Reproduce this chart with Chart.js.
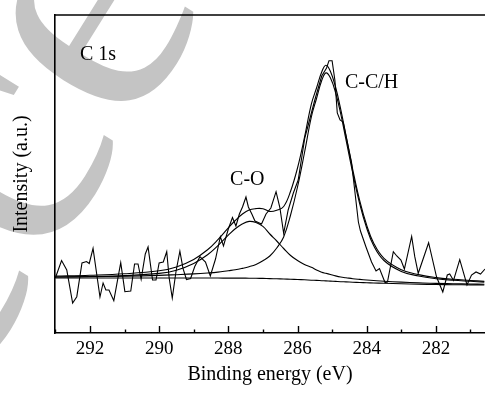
<!DOCTYPE html>
<html><head><meta charset="utf-8">
<style>html,body{margin:0;padding:0;background:#fff;overflow:hidden}#wrap{width:485px;height:393px}</style>
<script src="https://cdn.jsdelivr.net/npm/chart.js@4.4.1/dist/chart.umd.min.js"></script>
</head><body><div id="wrap"><canvas id="c" width="485" height="393"></canvas></div>
<script>
// Raw spectrum (binding energy eV, intensity a.u.)
const rawE = [293.00,292.82,292.67,292.50,292.38,292.23,292.10,292.02,291.91,291.71,291.62,291.54,291.45,291.31,291.11,290.99,290.82,290.71,290.61,290.52,290.40,290.32,290.19,290.09,290.00,289.88,289.78,289.71,289.62,289.51,289.40,289.31,289.21,289.09,288.97,288.82,288.66,288.52,288.37,288.23,288.14,288.00,287.88,287.78,287.68,287.59,287.49,287.42,287.32,287.23,287.04,286.91,286.77,286.62,286.51,286.40,286.27,286.12,285.98,285.79,285.69,285.50,285.30,285.16,285.09,285.00,284.92,284.85,284.77,284.68,284.44,284.24,284.18,284.02,283.86,283.73,283.63,283.47,283.40,283.23,283.13,283.01,282.91,282.70,282.61,282.51,282.21,281.98,281.80,281.67,281.60,281.49,281.31,281.10,280.97,280.84,280.71,280.58];
const rawI = [55,72.5,63,30,36.3,70,71.5,69.5,84.7,36,50,43,43,32.3,70.3,41.3,42,69,69,53.7,79,86,53,53,70,71,81.3,55,35,62,81.8,64.7,53.5,54.5,66.5,76.3,71,57,74,96.3,87,104,115.5,107,119,126,136,126,119,112,109,119,125,141.3,125.5,99.7,123,140,153,195,208,233,257,265,272.3,272.3,253,220,213,211,171,111,102,86,71,62,64.5,50.5,51,81.3,77,73,64,96.5,76.3,59.7,90.3,56,41,58,59,52.5,73.3,48,58,61,59,64];

// Fitted curves sampled at fitE
const fitE = [293.0,292.0,291.0,290.0,289.5,289.0,288.6,288.3,288.0,287.8,287.6,287.4,287.2,287.0,286.8,286.6,286.4,286.2,286.0,285.8,285.6,285.45,285.3,285.18,285.05,284.9,284.75,284.6,284.4,284.2,284.0,283.8,283.5,283.0,282.5,282.0,281.5,281.0,280.6];
const baseline = [55,55,55,55,55,55,55,54.95,54.9,54.9,54.85,54.8,54.7,54.6,54.4,54.2,54.0,53.7,53.5,53.2,52.8,52.6,52.3,52.1,51.9,51.6,51.3,51.1,50.8,50.5,50.2,50.0,49.7,49.2,48.85,48.5,48.3,48.15,48.0];
const ccComp = [56.0,56.3,56.8,57.6,58.3,59.1,60.0,60.9,62.3,63.2,64.6,66.3,68.6,72.3,77,85,96,118,146,180,216,234.5,252.5,260.1,255.2,240.5,219,193.5,159.5,129,105,87.5,72.5,61.6,57.0,54.3,52.7,51.7,50.9];
const coComp = [56.0,56.5,57.4,59.6,62.8,69.5,78.2,87.4,97.8,104.2,109.0,111.6,110.5,106.6,99,92,84.5,77.5,72.5,68.5,65.7,63.1,60.8,59.7,58.5,57.1,56.0,55.3,54.3,53.6,53.0,52.5,51.8,50.9,50.2,49.6,49.3,49.0,48.7];
const envelope = [57,57.8,59.2,62.2,66.1,73.6,83.2,93.35,105.2,112.5,118.75,123.1,124.4,124.3,121.6,122.8,126.5,141.8,165,195.3,228.9,245,261,267.7,261.8,246,223.7,197.7,163,132.1,107.8,90,74.6,63.3,58.35,55.4,53.7,52.55,51.6];

const tickValues = [293,292,291,290,289,288,287,286,285,284,283,282,281];
const majorTicks = [292,290,288,286,284,282];
const labels = [
  {text:'C 1s', e:292.29, v:278},
  {text:'C-O', e:287.95, v:153.5},
  {text:'C-C/H', e:284.63, v:250.5}
];

const serif = '"Liberation Serif", "Times New Roman", serif';
const pts = (xs, ys) => xs.map((x,i)=>({x:x, y:ys[i]}));

const decor = {
  id:'decor',
  beforeDraw(chart){
    const ctx = chart.ctx;
    ctx.save();
    ctx.fillStyle = '#fff';
    ctx.fillRect(0,0,chart.width,chart.height);
    ctx.fillStyle = '#c4c4c4';
    ctx.font = '360px ' + serif;
    ctx.translate(-180, 628);
    ctx.rotate(-58*Math.PI/180);
    ctx.fillText('Acce', 0, 0);
    ctx.restore();
  },
  afterDraw(chart){
    const ctx = chart.ctx, xs = chart.scales.x, ys = chart.scales.y, a = chart.chartArea;
    ctx.save();
    ctx.strokeStyle = '#000';
    ctx.lineWidth = 1.4;
    xs.ticks.forEach(t=>{
      const px = Math.round(xs.getPixelForValue(t.value)) + 0.5;
      const len = majorTicks.includes(t.value) ? 7 : 3.5;
      ctx.beginPath(); ctx.moveTo(px, a.bottom); ctx.lineTo(px, a.bottom - len); ctx.stroke();
    });
    ctx.lineWidth = 1.6;
    ctx.beginPath(); ctx.moveTo(a.left, a.top); ctx.lineTo(a.right + 2, a.top); ctx.stroke();
    ctx.fillStyle = '#000';
    ctx.font = '20px ' + serif;
    ctx.textBaseline = 'middle';
    ctx.textAlign = 'left';
    labels.forEach(l=>{
      ctx.fillText(l.text, xs.getPixelForValue(l.e), ys.getPixelForValue(l.v));
    });
    ctx.restore();
  }
};

const lineStyle = {borderColor:'#000', borderWidth:1.1, pointRadius:0, fill:false};

new Chart(document.getElementById('c'), {
  type:'line',
  data:{datasets:[
    Object.assign({label:'baseline', data:pts(fitE, baseline), tension:0.4}, lineStyle),
    Object.assign({label:'C-O', data:pts(fitE, coComp), tension:0.4}, lineStyle),
    Object.assign({label:'C-C/H', data:pts(fitE, ccComp), tension:0.4}, lineStyle),
    Object.assign({label:'envelope', data:pts(fitE, envelope), tension:0.4}, lineStyle),
    Object.assign({label:'raw', data:pts(rawE, rawI), tension:0}, lineStyle)
  ]},
  options:{
    responsive:false, animation:false, devicePixelRatio:1,
    layout:{padding:{top:15,left:0,right:0,bottom:0}},
    plugins:{legend:{display:false}, tooltip:{enabled:false}},
    scales:{
      x:{
        type:'linear', reverse:true, min:280.58, max:293.01, position:'bottom',
        afterBuildTicks:(s)=>{ s.ticks = tickValues.map(v=>({value:v})); },
        afterFit:(s)=>{ s.height = 60; },
        grid:{display:false, drawTicks:false},
        border:{display:true, color:'#000', width:1.6},
        ticks:{autoSkip:false, maxRotation:0, padding:5, color:'#000',
          font:{family:serif, size:19},
          callback:(v)=> majorTicks.includes(v) ? String(v) : ''},
        title:{display:true, text:'Binding energy (eV)', color:'#000',
          font:{family:serif, size:20}, padding:{top:0, bottom:6}}
      },
      y:{
        min:0, max:318,
        afterFit:(s)=>{ s.width = 55; },
        grid:{display:false, drawTicks:false},
        border:{display:true, color:'#000', width:1.6},
        ticks:{display:false},
        title:{display:true, text:'Intensity (a.u.)', color:'#000',
          font:{family:serif, size:20}, padding:{top:10, bottom:0}}
      }
    }
  },
  plugins:[decor]
});
</script>
</body></html>
